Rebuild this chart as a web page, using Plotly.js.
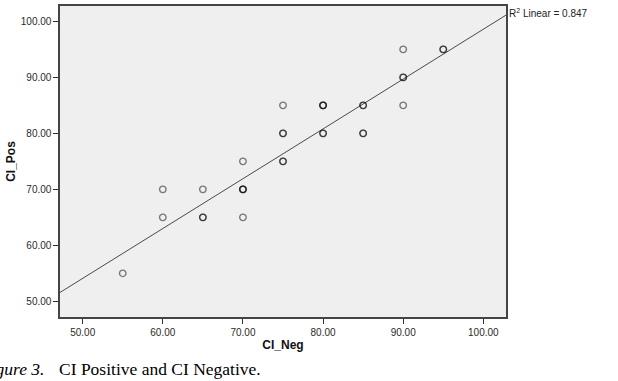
<!DOCTYPE html>
<html>
<head>
<meta charset="utf-8">
<script src="https://cdn.plot.ly/plotly-3.0.1.min.js"></script>
<style>
  html, body { margin: 0; padding: 0; background: #ffffff; }
  #chart { width: 618px; height: 381px; }
</style>
</head>
<body>
<div id="chart"></div>
<script>
// One entry per case: negative and positive CI scores (repeated pairs overlap)
const ciNeg = [55, 60, 60, 65, 65, 65, 70, 70, 70, 70, 70,
               75, 75, 75, 75, 75, 80, 80, 80, 80, 80,
               85, 85, 85, 85, 90, 90, 90, 90, 95, 95];
const ciPos = [55, 70, 65, 70, 65, 65, 75, 70, 70, 70, 65,
               85, 80, 80, 75, 75, 85, 85, 85, 80, 80,
               85, 85, 80, 80, 95, 90, 90, 85, 95, 95];

// Linear fit reported with the chart
const fitIntercept = 9.6;
const fitSlope = 0.89;
const rSquared = 0.847;

const tickValues = [50, 60, 70, 80, 90, 100];
const xRange = [47.17, 102.83];
const yRange = [47.2, 102.75];

const fitX = xRange.slice();
const fitY = fitX.map(v => fitIntercept + fitSlope * v);

const axisFont = { family: 'Liberation Sans, Arial, sans-serif', size: 10, color: '#2a2a2a' };
const titleFont = { family: 'Liberation Sans, Arial, sans-serif', size: 12, color: '#111111', weight: 'bold' };

const traces = [
  {
    x: fitX, y: fitY,
    type: 'scatter', mode: 'lines',
    line: { color: '#4a4a4a', width: 1 },
    hoverinfo: 'skip', showlegend: false
  },
  {
    x: ciNeg, y: ciPos,
    type: 'scatter', mode: 'markers',
    marker: {
      symbol: 'circle-open', size: 6.5, color: '#000000', opacity: 0.5,
      line: { width: 1.4 }
    },
    showlegend: false
  }
];

const axisCommon = {
  tickvals: tickValues,
  tickformat: '.2f',
  ticks: 'outside', ticklen: 5, tickwidth: 1, tickcolor: '#333333',
  showgrid: false, zeroline: false,
  showline: true, linecolor: '#444444', linewidth: 1.6, mirror: true,
  tickfont: axisFont
};

const layout = {
  width: 618, height: 381,
  margin: { l: 60, r: 112, t: 6, b: 64, pad: 0 },
  paper_bgcolor: '#ffffff',
  plot_bgcolor: '#efefef',
  xaxis: Object.assign({}, axisCommon, {
    range: xRange,
    title: { text: 'CI_Neg', font: titleFont, standoff: 4 }
  }),
  yaxis: Object.assign({}, axisCommon, {
    range: yRange,
    title: { text: 'CI_Pos', font: titleFont, standoff: 2 }
  }),
  annotations: [
    {
      text: 'R<sup>2</sup> Linear = ' + rSquared.toFixed(3),
      xref: 'paper', yref: 'paper', x: 1.002, y: 0.977,
      xanchor: 'left', yanchor: 'middle', showarrow: false,
      font: { family: 'Liberation Sans, Arial, sans-serif', size: 10, color: '#222222' }
    },
    {
      text: '<i>Figure 3.</i>',
      xref: 'paper', yref: 'paper', x: -0.031, y: -0.167,
      xanchor: 'right', yanchor: 'middle', showarrow: false,
      font: { family: 'Liberation Serif, Times New Roman, serif', size: 17.5, color: '#000000' }
    },
    {
      text: 'CI Positive and CI Negative.',
      xref: 'paper', yref: 'paper', x: -0.006, y: -0.167,
      xanchor: 'left', yanchor: 'middle', showarrow: false,
      font: { family: 'Liberation Serif, Times New Roman, serif', size: 17.5, color: '#000000' }
    }
  ]
};

Plotly.newPlot('chart', traces, layout, { staticPlot: true, displayModeBar: false });
</script>
</body>
</html>
